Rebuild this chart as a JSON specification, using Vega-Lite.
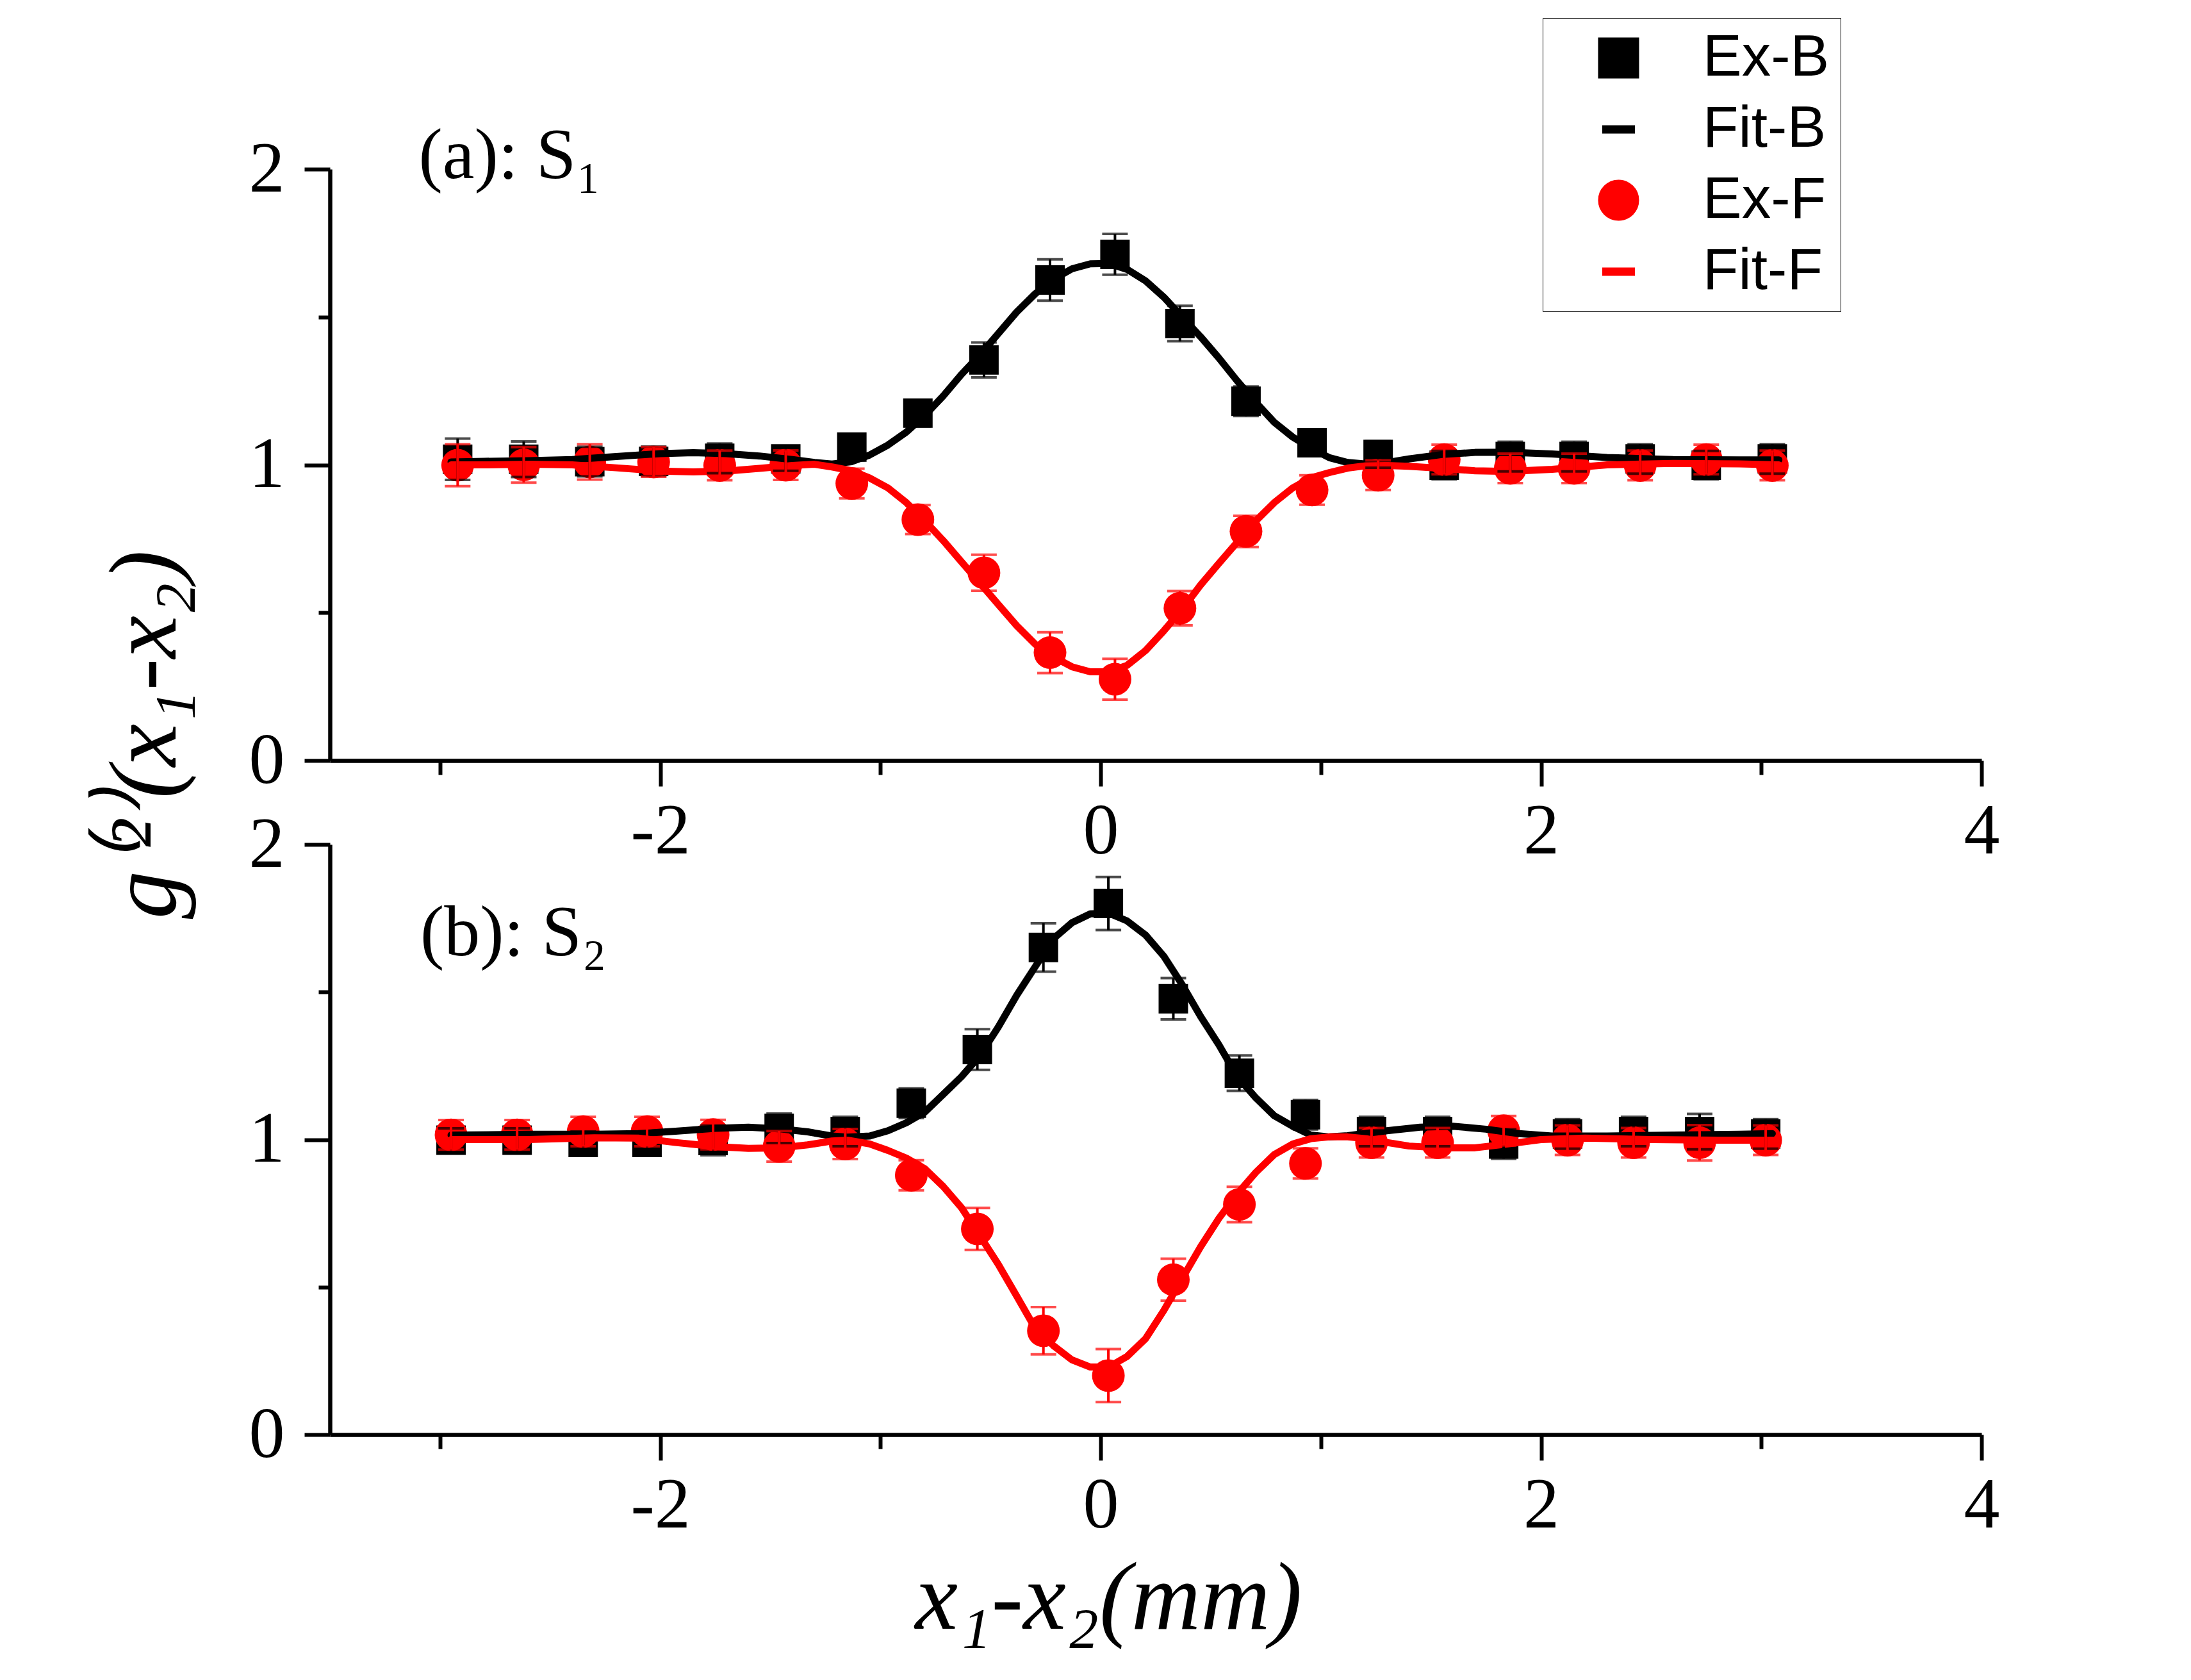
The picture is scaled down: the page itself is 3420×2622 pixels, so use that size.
{
  "$schema": "https://vega.github.io/schema/vega-lite/v6.json",
  "description": "g2 correlation, bunching (B) and antibunching (F), panels S1 and S2",
  "padding": {"left": 153, "top": 27, "right": 20, "bottom": 20},
  "background": "white",
  "datasets": {
    "ex": [
      {"p": "a", "s": "Ex-B", "x": -2.92, "g": 1.019, "e": 0.07},
      {"p": "a", "s": "Ex-B", "x": -2.62, "g": 1.019, "e": 0.06},
      {"p": "a", "s": "Ex-B", "x": -2.32, "g": 1.011, "e": 0.05},
      {"p": "a", "s": "Ex-B", "x": -2.03, "g": 1.012, "e": 0.05},
      {"p": "a", "s": "Ex-B", "x": -1.73, "g": 1.022, "e": 0.05},
      {"p": "a", "s": "Ex-B", "x": -1.43, "g": 1.02, "e": 0.04},
      {"p": "a", "s": "Ex-B", "x": -1.13, "g": 1.06, "e": 0.045},
      {"p": "a", "s": "Ex-B", "x": -0.83, "g": 1.175, "e": 0.045},
      {"p": "a", "s": "Ex-B", "x": -0.53, "g": 1.355, "e": 0.059},
      {"p": "a", "s": "Ex-B", "x": -0.23, "g": 1.625, "e": 0.07},
      {"p": "a", "s": "Ex-B", "x": 0.065, "g": 1.712, "e": 0.069},
      {"p": "a", "s": "Ex-B", "x": 0.36, "g": 1.478, "e": 0.06},
      {"p": "a", "s": "Ex-B", "x": 0.66, "g": 1.215, "e": 0.05},
      {"p": "a", "s": "Ex-B", "x": 0.96, "g": 1.075, "e": 0.045},
      {"p": "a", "s": "Ex-B", "x": 1.26, "g": 1.035, "e": 0.045},
      {"p": "a", "s": "Ex-B", "x": 1.56, "g": 0.999, "e": 0.048},
      {"p": "a", "s": "Ex-B", "x": 1.86, "g": 1.028, "e": 0.05},
      {"p": "a", "s": "Ex-B", "x": 2.15, "g": 1.028, "e": 0.05},
      {"p": "a", "s": "Ex-B", "x": 2.45, "g": 1.02, "e": 0.05},
      {"p": "a", "s": "Ex-B", "x": 2.75, "g": 0.999, "e": 0.048},
      {"p": "a", "s": "Ex-B", "x": 3.05, "g": 1.02, "e": 0.05},
      {"p": "a", "s": "Ex-F", "x": -2.92, "g": 0.999, "e": 0.071},
      {"p": "a", "s": "Ex-F", "x": -2.62, "g": 1.0, "e": 0.06},
      {"p": "a", "s": "Ex-F", "x": -2.32, "g": 1.01, "e": 0.06},
      {"p": "a", "s": "Ex-F", "x": -2.03, "g": 1.01, "e": 0.05},
      {"p": "a", "s": "Ex-F", "x": -1.73, "g": 0.998, "e": 0.05},
      {"p": "a", "s": "Ex-F", "x": -1.43, "g": 0.999, "e": 0.05},
      {"p": "a", "s": "Ex-F", "x": -1.13, "g": 0.937, "e": 0.05},
      {"p": "a", "s": "Ex-F", "x": -0.83, "g": 0.815, "e": 0.049},
      {"p": "a", "s": "Ex-F", "x": -0.53, "g": 0.635, "e": 0.061},
      {"p": "a", "s": "Ex-F", "x": -0.23, "g": 0.365, "e": 0.069},
      {"p": "a", "s": "Ex-F", "x": 0.065, "g": 0.275, "e": 0.069},
      {"p": "a", "s": "Ex-F", "x": 0.36, "g": 0.515, "e": 0.058},
      {"p": "a", "s": "Ex-F", "x": 0.66, "g": 0.775, "e": 0.053},
      {"p": "a", "s": "Ex-F", "x": 0.96, "g": 0.915, "e": 0.05},
      {"p": "a", "s": "Ex-F", "x": 1.26, "g": 0.965, "e": 0.05},
      {"p": "a", "s": "Ex-F", "x": 1.56, "g": 1.018, "e": 0.05},
      {"p": "a", "s": "Ex-F", "x": 1.86, "g": 0.988, "e": 0.05},
      {"p": "a", "s": "Ex-F", "x": 2.15, "g": 0.988, "e": 0.05},
      {"p": "a", "s": "Ex-F", "x": 2.45, "g": 0.998, "e": 0.05},
      {"p": "a", "s": "Ex-F", "x": 2.75, "g": 1.018, "e": 0.05},
      {"p": "a", "s": "Ex-F", "x": 3.05, "g": 0.998, "e": 0.05},
      {"p": "b", "s": "Ex-B", "x": -2.95, "g": 0.998, "e": 0.04},
      {"p": "b", "s": "Ex-B", "x": -2.65, "g": 0.998, "e": 0.04},
      {"p": "b", "s": "Ex-B", "x": -2.35, "g": 0.99, "e": 0.037},
      {"p": "b", "s": "Ex-B", "x": -2.06, "g": 0.99, "e": 0.037},
      {"p": "b", "s": "Ex-B", "x": -1.76, "g": 0.997, "e": 0.05},
      {"p": "b", "s": "Ex-B", "x": -1.46, "g": 1.038, "e": 0.05},
      {"p": "b", "s": "Ex-B", "x": -1.16, "g": 1.027, "e": 0.05},
      {"p": "b", "s": "Ex-B", "x": -0.86, "g": 1.123, "e": 0.05},
      {"p": "b", "s": "Ex-B", "x": -0.56, "g": 1.305, "e": 0.069},
      {"p": "b", "s": "Ex-B", "x": -0.26, "g": 1.651, "e": 0.082},
      {"p": "b", "s": "Ex-B", "x": 0.035, "g": 1.8, "e": 0.09},
      {"p": "b", "s": "Ex-B", "x": 0.33, "g": 1.477, "e": 0.07},
      {"p": "b", "s": "Ex-B", "x": 0.63, "g": 1.225, "e": 0.06},
      {"p": "b", "s": "Ex-B", "x": 0.93, "g": 1.084, "e": 0.05},
      {"p": "b", "s": "Ex-B", "x": 1.23, "g": 1.027, "e": 0.05},
      {"p": "b", "s": "Ex-B", "x": 1.53, "g": 1.027, "e": 0.05},
      {"p": "b", "s": "Ex-B", "x": 1.83, "g": 0.985, "e": 0.05},
      {"p": "b", "s": "Ex-B", "x": 2.12, "g": 1.019, "e": 0.05},
      {"p": "b", "s": "Ex-B", "x": 2.42, "g": 1.027, "e": 0.05},
      {"p": "b", "s": "Ex-B", "x": 2.72, "g": 1.027, "e": 0.06},
      {"p": "b", "s": "Ex-B", "x": 3.02, "g": 1.019, "e": 0.05},
      {"p": "b", "s": "Ex-F", "x": -2.95, "g": 1.016, "e": 0.05},
      {"p": "b", "s": "Ex-F", "x": -2.65, "g": 1.016, "e": 0.05},
      {"p": "b", "s": "Ex-F", "x": -2.35, "g": 1.027, "e": 0.05},
      {"p": "b", "s": "Ex-F", "x": -2.06, "g": 1.027, "e": 0.05},
      {"p": "b", "s": "Ex-F", "x": -1.76, "g": 1.017, "e": 0.05},
      {"p": "b", "s": "Ex-F", "x": -1.46, "g": 0.977, "e": 0.052},
      {"p": "b", "s": "Ex-F", "x": -1.16, "g": 0.985, "e": 0.051},
      {"p": "b", "s": "Ex-F", "x": -0.86, "g": 0.879, "e": 0.051},
      {"p": "b", "s": "Ex-F", "x": -0.56, "g": 0.697, "e": 0.071},
      {"p": "b", "s": "Ex-F", "x": -0.26, "g": 0.352, "e": 0.08},
      {"p": "b", "s": "Ex-F", "x": 0.035, "g": 0.2, "e": 0.09},
      {"p": "b", "s": "Ex-F", "x": 0.33, "g": 0.525, "e": 0.071},
      {"p": "b", "s": "Ex-F", "x": 0.63, "g": 0.78, "e": 0.06},
      {"p": "b", "s": "Ex-F", "x": 0.93, "g": 0.919, "e": 0.051},
      {"p": "b", "s": "Ex-F", "x": 1.23, "g": 0.989, "e": 0.05},
      {"p": "b", "s": "Ex-F", "x": 1.53, "g": 0.989, "e": 0.05},
      {"p": "b", "s": "Ex-F", "x": 1.83, "g": 1.03, "e": 0.05},
      {"p": "b", "s": "Ex-F", "x": 2.12, "g": 0.998, "e": 0.05},
      {"p": "b", "s": "Ex-F", "x": 2.42, "g": 0.989, "e": 0.05},
      {"p": "b", "s": "Ex-F", "x": 2.72, "g": 0.989, "e": 0.06},
      {"p": "b", "s": "Ex-F", "x": 3.02, "g": 0.998, "e": 0.05}
    ],
    "fit": [
      {"p": "a", "s": "Fit-B", "x": -2.95, "g": 1.01},
      {"p": "a", "s": "Fit-B", "x": -2.8, "g": 1.012},
      {"p": "a", "s": "Fit-B", "x": -2.6, "g": 1.014},
      {"p": "a", "s": "Fit-B", "x": -2.4, "g": 1.018},
      {"p": "a", "s": "Fit-B", "x": -2.2, "g": 1.028},
      {"p": "a", "s": "Fit-B", "x": -2.0, "g": 1.038},
      {"p": "a", "s": "Fit-B", "x": -1.85, "g": 1.041},
      {"p": "a", "s": "Fit-B", "x": -1.7, "g": 1.038},
      {"p": "a", "s": "Fit-B", "x": -1.55, "g": 1.03},
      {"p": "a", "s": "Fit-B", "x": -1.4, "g": 1.018},
      {"p": "a", "s": "Fit-B", "x": -1.3, "g": 1.008},
      {"p": "a", "s": "Fit-B", "x": -1.22, "g": 1.003},
      {"p": "a", "s": "Fit-B", "x": -1.13, "g": 1.011},
      {"p": "a", "s": "Fit-B", "x": -1.05, "g": 1.033},
      {"p": "a", "s": "Fit-B", "x": -0.966, "g": 1.067},
      {"p": "a", "s": "Fit-B", "x": -0.882, "g": 1.111},
      {"p": "a", "s": "Fit-B", "x": -0.799, "g": 1.167},
      {"p": "a", "s": "Fit-B", "x": -0.715, "g": 1.233},
      {"p": "a", "s": "Fit-B", "x": -0.632, "g": 1.306},
      {"p": "a", "s": "Fit-B", "x": -0.548, "g": 1.372},
      {"p": "a", "s": "Fit-B", "x": -0.465, "g": 1.444},
      {"p": "a", "s": "Fit-B", "x": -0.381, "g": 1.517},
      {"p": "a", "s": "Fit-B", "x": -0.298, "g": 1.578},
      {"p": "a", "s": "Fit-B", "x": -0.214, "g": 1.628},
      {"p": "a", "s": "Fit-B", "x": -0.13, "g": 1.663},
      {"p": "a", "s": "Fit-B", "x": -0.047, "g": 1.68},
      {"p": "a", "s": "Fit-B", "x": 0.037, "g": 1.681},
      {"p": "a", "s": "Fit-B", "x": 0.12, "g": 1.661},
      {"p": "a", "s": "Fit-B", "x": 0.204, "g": 1.622},
      {"p": "a", "s": "Fit-B", "x": 0.287, "g": 1.567},
      {"p": "a", "s": "Fit-B", "x": 0.37, "g": 1.5},
      {"p": "a", "s": "Fit-B", "x": 0.454, "g": 1.433},
      {"p": "a", "s": "Fit-B", "x": 0.537, "g": 1.361},
      {"p": "a", "s": "Fit-B", "x": 0.621, "g": 1.283},
      {"p": "a", "s": "Fit-B", "x": 0.705, "g": 1.211},
      {"p": "a", "s": "Fit-B", "x": 0.788, "g": 1.144},
      {"p": "a", "s": "Fit-B", "x": 0.872, "g": 1.094},
      {"p": "a", "s": "Fit-B", "x": 0.955, "g": 1.056},
      {"p": "a", "s": "Fit-B", "x": 1.039, "g": 1.024},
      {"p": "a", "s": "Fit-B", "x": 1.122, "g": 1.008},
      {"p": "a", "s": "Fit-B", "x": 1.206, "g": 1.003},
      {"p": "a", "s": "Fit-B", "x": 1.3, "g": 1.008},
      {"p": "a", "s": "Fit-B", "x": 1.4, "g": 1.02},
      {"p": "a", "s": "Fit-B", "x": 1.55, "g": 1.035},
      {"p": "a", "s": "Fit-B", "x": 1.7, "g": 1.042},
      {"p": "a", "s": "Fit-B", "x": 1.85, "g": 1.043},
      {"p": "a", "s": "Fit-B", "x": 2.05, "g": 1.037},
      {"p": "a", "s": "Fit-B", "x": 2.3, "g": 1.025},
      {"p": "a", "s": "Fit-B", "x": 2.6, "g": 1.018},
      {"p": "a", "s": "Fit-B", "x": 2.9, "g": 1.017},
      {"p": "a", "s": "Fit-B", "x": 3.08, "g": 1.017},
      {"p": "a", "s": "Fit-F", "x": -2.95, "g": 1.0},
      {"p": "a", "s": "Fit-F", "x": -2.8, "g": 1.0},
      {"p": "a", "s": "Fit-F", "x": -2.6, "g": 1.002},
      {"p": "a", "s": "Fit-F", "x": -2.4, "g": 1.0},
      {"p": "a", "s": "Fit-F", "x": -2.2, "g": 0.99},
      {"p": "a", "s": "Fit-F", "x": -2.0, "g": 0.979},
      {"p": "a", "s": "Fit-F", "x": -1.85, "g": 0.976},
      {"p": "a", "s": "Fit-F", "x": -1.7, "g": 0.979},
      {"p": "a", "s": "Fit-F", "x": -1.55, "g": 0.988},
      {"p": "a", "s": "Fit-F", "x": -1.4, "g": 0.998},
      {"p": "a", "s": "Fit-F", "x": -1.3, "g": 1.002},
      {"p": "a", "s": "Fit-F", "x": -1.22, "g": 0.993},
      {"p": "a", "s": "Fit-F", "x": -1.13, "g": 0.98},
      {"p": "a", "s": "Fit-F", "x": -1.05, "g": 0.956},
      {"p": "a", "s": "Fit-F", "x": -0.966, "g": 0.922},
      {"p": "a", "s": "Fit-F", "x": -0.882, "g": 0.872},
      {"p": "a", "s": "Fit-F", "x": -0.799, "g": 0.811},
      {"p": "a", "s": "Fit-F", "x": -0.715, "g": 0.744},
      {"p": "a", "s": "Fit-F", "x": -0.632, "g": 0.672},
      {"p": "a", "s": "Fit-F", "x": -0.548, "g": 0.6},
      {"p": "a", "s": "Fit-F", "x": -0.465, "g": 0.528},
      {"p": "a", "s": "Fit-F", "x": -0.381, "g": 0.456},
      {"p": "a", "s": "Fit-F", "x": -0.298, "g": 0.394},
      {"p": "a", "s": "Fit-F", "x": -0.214, "g": 0.35},
      {"p": "a", "s": "Fit-F", "x": -0.13, "g": 0.317},
      {"p": "a", "s": "Fit-F", "x": -0.047, "g": 0.3},
      {"p": "a", "s": "Fit-F", "x": 0.037, "g": 0.3},
      {"p": "a", "s": "Fit-F", "x": 0.12, "g": 0.322},
      {"p": "a", "s": "Fit-F", "x": 0.204, "g": 0.372},
      {"p": "a", "s": "Fit-F", "x": 0.287, "g": 0.439},
      {"p": "a", "s": "Fit-F", "x": 0.37, "g": 0.511},
      {"p": "a", "s": "Fit-F", "x": 0.454, "g": 0.594},
      {"p": "a", "s": "Fit-F", "x": 0.537, "g": 0.667},
      {"p": "a", "s": "Fit-F", "x": 0.621, "g": 0.739},
      {"p": "a", "s": "Fit-F", "x": 0.705, "g": 0.811},
      {"p": "a", "s": "Fit-F", "x": 0.788, "g": 0.872},
      {"p": "a", "s": "Fit-F", "x": 0.872, "g": 0.922},
      {"p": "a", "s": "Fit-F", "x": 0.955, "g": 0.956},
      {"p": "a", "s": "Fit-F", "x": 1.039, "g": 0.974},
      {"p": "a", "s": "Fit-F", "x": 1.122, "g": 0.989},
      {"p": "a", "s": "Fit-F", "x": 1.206, "g": 0.997},
      {"p": "a", "s": "Fit-F", "x": 1.3, "g": 0.998},
      {"p": "a", "s": "Fit-F", "x": 1.4, "g": 0.995},
      {"p": "a", "s": "Fit-F", "x": 1.55, "g": 0.988},
      {"p": "a", "s": "Fit-F", "x": 1.7, "g": 0.98},
      {"p": "a", "s": "Fit-F", "x": 1.85, "g": 0.978},
      {"p": "a", "s": "Fit-F", "x": 2.05, "g": 0.985},
      {"p": "a", "s": "Fit-F", "x": 2.3, "g": 1.0},
      {"p": "a", "s": "Fit-F", "x": 2.6, "g": 1.005},
      {"p": "a", "s": "Fit-F", "x": 2.9, "g": 1.003},
      {"p": "a", "s": "Fit-F", "x": 3.08, "g": 1.0},
      {"p": "b", "s": "Fit-B", "x": -2.95, "g": 1.015},
      {"p": "b", "s": "Fit-B", "x": -2.6, "g": 1.018},
      {"p": "b", "s": "Fit-B", "x": -2.3, "g": 1.018},
      {"p": "b", "s": "Fit-B", "x": -2.1, "g": 1.02},
      {"p": "b", "s": "Fit-B", "x": -1.93, "g": 1.028},
      {"p": "b", "s": "Fit-B", "x": -1.75, "g": 1.038},
      {"p": "b", "s": "Fit-B", "x": -1.6, "g": 1.042},
      {"p": "b", "s": "Fit-B", "x": -1.45, "g": 1.036},
      {"p": "b", "s": "Fit-B", "x": -1.33, "g": 1.026},
      {"p": "b", "s": "Fit-B", "x": -1.22, "g": 1.012},
      {"p": "b", "s": "Fit-B", "x": -1.15, "g": 1.008},
      {"p": "b", "s": "Fit-B", "x": -1.049, "g": 1.012},
      {"p": "b", "s": "Fit-B", "x": -0.966, "g": 1.03},
      {"p": "b", "s": "Fit-B", "x": -0.882, "g": 1.057},
      {"p": "b", "s": "Fit-B", "x": -0.799, "g": 1.093},
      {"p": "b", "s": "Fit-B", "x": -0.715, "g": 1.153},
      {"p": "b", "s": "Fit-B", "x": -0.632, "g": 1.213},
      {"p": "b", "s": "Fit-B", "x": -0.548, "g": 1.285},
      {"p": "b", "s": "Fit-B", "x": -0.465, "g": 1.381},
      {"p": "b", "s": "Fit-B", "x": -0.381, "g": 1.489},
      {"p": "b", "s": "Fit-B", "x": -0.298, "g": 1.585},
      {"p": "b", "s": "Fit-B", "x": -0.214, "g": 1.681},
      {"p": "b", "s": "Fit-B", "x": -0.13, "g": 1.735},
      {"p": "b", "s": "Fit-B", "x": -0.047, "g": 1.765},
      {"p": "b", "s": "Fit-B", "x": 0.037, "g": 1.767},
      {"p": "b", "s": "Fit-B", "x": 0.12, "g": 1.741},
      {"p": "b", "s": "Fit-B", "x": 0.204, "g": 1.693},
      {"p": "b", "s": "Fit-B", "x": 0.287, "g": 1.621},
      {"p": "b", "s": "Fit-B", "x": 0.37, "g": 1.525},
      {"p": "b", "s": "Fit-B", "x": 0.454, "g": 1.417},
      {"p": "b", "s": "Fit-B", "x": 0.537, "g": 1.321},
      {"p": "b", "s": "Fit-B", "x": 0.621, "g": 1.213},
      {"p": "b", "s": "Fit-B", "x": 0.705, "g": 1.141},
      {"p": "b", "s": "Fit-B", "x": 0.788, "g": 1.081},
      {"p": "b", "s": "Fit-B", "x": 0.872, "g": 1.045},
      {"p": "b", "s": "Fit-B", "x": 0.955, "g": 1.015},
      {"p": "b", "s": "Fit-B", "x": 1.039, "g": 1.009},
      {"p": "b", "s": "Fit-B", "x": 1.122, "g": 1.013},
      {"p": "b", "s": "Fit-B", "x": 1.206, "g": 1.021},
      {"p": "b", "s": "Fit-B", "x": 1.3, "g": 1.03},
      {"p": "b", "s": "Fit-B", "x": 1.45, "g": 1.042},
      {"p": "b", "s": "Fit-B", "x": 1.6, "g": 1.045},
      {"p": "b", "s": "Fit-B", "x": 1.75, "g": 1.035},
      {"p": "b", "s": "Fit-B", "x": 1.9, "g": 1.02},
      {"p": "b", "s": "Fit-B", "x": 2.05, "g": 1.012},
      {"p": "b", "s": "Fit-B", "x": 2.3, "g": 1.012},
      {"p": "b", "s": "Fit-B", "x": 2.6, "g": 1.015},
      {"p": "b", "s": "Fit-B", "x": 2.9, "g": 1.018},
      {"p": "b", "s": "Fit-B", "x": 3.05, "g": 1.02},
      {"p": "b", "s": "Fit-F", "x": -2.95, "g": 1.0},
      {"p": "b", "s": "Fit-F", "x": -2.6, "g": 1.0},
      {"p": "b", "s": "Fit-F", "x": -2.3, "g": 1.006},
      {"p": "b", "s": "Fit-F", "x": -2.1, "g": 1.005},
      {"p": "b", "s": "Fit-F", "x": -1.93, "g": 0.99},
      {"p": "b", "s": "Fit-F", "x": -1.75, "g": 0.976},
      {"p": "b", "s": "Fit-F", "x": -1.6, "g": 0.97},
      {"p": "b", "s": "Fit-F", "x": -1.45, "g": 0.972},
      {"p": "b", "s": "Fit-F", "x": -1.33, "g": 0.982},
      {"p": "b", "s": "Fit-F", "x": -1.22, "g": 0.995},
      {"p": "b", "s": "Fit-F", "x": -1.15, "g": 0.998},
      {"p": "b", "s": "Fit-F", "x": -1.049, "g": 0.985},
      {"p": "b", "s": "Fit-F", "x": -0.966, "g": 0.963},
      {"p": "b", "s": "Fit-F", "x": -0.882, "g": 0.937},
      {"p": "b", "s": "Fit-F", "x": -0.799, "g": 0.901},
      {"p": "b", "s": "Fit-F", "x": -0.715, "g": 0.841},
      {"p": "b", "s": "Fit-F", "x": -0.632, "g": 0.769},
      {"p": "b", "s": "Fit-F", "x": -0.548, "g": 0.673},
      {"p": "b", "s": "Fit-F", "x": -0.465, "g": 0.577},
      {"p": "b", "s": "Fit-F", "x": -0.381, "g": 0.469},
      {"p": "b", "s": "Fit-F", "x": -0.298, "g": 0.361},
      {"p": "b", "s": "Fit-F", "x": -0.214, "g": 0.301},
      {"p": "b", "s": "Fit-F", "x": -0.13, "g": 0.253},
      {"p": "b", "s": "Fit-F", "x": -0.047, "g": 0.229},
      {"p": "b", "s": "Fit-F", "x": 0.037, "g": 0.229},
      {"p": "b", "s": "Fit-F", "x": 0.12, "g": 0.265},
      {"p": "b", "s": "Fit-F", "x": 0.204, "g": 0.325},
      {"p": "b", "s": "Fit-F", "x": 0.287, "g": 0.421},
      {"p": "b", "s": "Fit-F", "x": 0.37, "g": 0.529},
      {"p": "b", "s": "Fit-F", "x": 0.454, "g": 0.637},
      {"p": "b", "s": "Fit-F", "x": 0.537, "g": 0.733},
      {"p": "b", "s": "Fit-F", "x": 0.621, "g": 0.817},
      {"p": "b", "s": "Fit-F", "x": 0.705, "g": 0.889},
      {"p": "b", "s": "Fit-F", "x": 0.788, "g": 0.949},
      {"p": "b", "s": "Fit-F", "x": 0.872, "g": 0.985},
      {"p": "b", "s": "Fit-F", "x": 0.955, "g": 1.003},
      {"p": "b", "s": "Fit-F", "x": 1.039, "g": 1.009},
      {"p": "b", "s": "Fit-F", "x": 1.122, "g": 1.009},
      {"p": "b", "s": "Fit-F", "x": 1.206, "g": 1.003},
      {"p": "b", "s": "Fit-F", "x": 1.3, "g": 0.99},
      {"p": "b", "s": "Fit-F", "x": 1.4, "g": 0.978},
      {"p": "b", "s": "Fit-F", "x": 1.55, "g": 0.972},
      {"p": "b", "s": "Fit-F", "x": 1.7, "g": 0.972},
      {"p": "b", "s": "Fit-F", "x": 1.85, "g": 0.985},
      {"p": "b", "s": "Fit-F", "x": 2.0, "g": 1.0},
      {"p": "b", "s": "Fit-F", "x": 2.2, "g": 1.005},
      {"p": "b", "s": "Fit-F", "x": 2.5, "g": 1.0},
      {"p": "b", "s": "Fit-F", "x": 2.8, "g": 0.998},
      {"p": "b", "s": "Fit-F", "x": 3.05, "g": 0.998}
    ],
    "labels": [
      {"p": "a", "label": "(a): S₁", "x": -3.097, "g": 1.97},
      {"p": "b", "label": "(b): S₂", "x": -3.09, "g": 1.625}
    ]
  },
  "vconcat": [
    {
      "width": 2578,
      "height": 923,
      "encoding": {
        "x": {
          "field": "x", "type": "quantitative",
          "scale": {"domain": [-3.5, 4], "nice": false, "zero": false},
          "axis": {
            "title": null,
            "values": [-3, -2, -1, 0, 1, 2, 3, 4],
            "labelExpr": "datum.value % 2 === 0 ? (datum.value < 0 ? '-' + abs(datum.value) : '' + datum.value) : ''",
            "tickSize": {"condition": {"test": "datum.value % 2 === 0", "value": 40}, "value": 22},
            "labelBaseline": "alphabetic",
            "labelPadding": 104
          }
        },
        "y": {
          "field": "g", "type": "quantitative",
          "scale": {"domain": [0, 2], "nice": false},
          "axis": {
            "title": "g⁽²⁾(x₁-x₂)",
            "titleAngle": 270,
            "titleX": -242,
            "titleY": 882,
            "titleAlign": "center",
            "titleBaseline": "alphabetic",
            "values": [0, 0.5, 1, 1.5, 2],
            "labelExpr": "datum.value % 1 === 0 ? '' + datum.value : ''",
            "tickSize": {"condition": {"test": "datum.value % 1 === 0", "value": 40}, "value": 18},
            "labelPadding": 31
          }
        }
      },
      "layer": [
        {
          "data": {"name": "ex"},
          "transform": [{"filter": "datum.p === 'a' && datum.s === 'Ex-B'"}],
          "mark": {"type": "point", "filled": true, "size": 2116, "opacity": 1, "strokeWidth": 0},
          "encoding": {
            "color": {
              "field": "s", "type": "nominal",
              "scale": {"domain": ["Ex-B", "Fit-B", "Ex-F", "Fit-F"], "range": ["black", "black", "red", "red"]},
              "legend": {"orient": "none", "legendX": 1893, "legendY": -236, "title": null}
            },
            "shape": {
              "field": "s", "type": "nominal",
              "scale": {"domain": ["Ex-B", "Fit-B", "Ex-F", "Fit-F"], "range": ["square", "stroke", "circle", "stroke"]},
              "legend": {"orient": "none", "legendX": 1893, "legendY": -236, "title": null}
            }
          }
        },
        {
          "data": {"name": "ex"},
          "transform": [{"filter": "datum.p === 'a' && datum.s === 'Ex-F'"}],
          "mark": {"type": "point", "filled": true, "size": 2601, "opacity": 1, "strokeWidth": 0},
          "encoding": {
            "color": {"field": "s", "type": "nominal"},
            "shape": {"field": "s", "type": "nominal"}
          }
        },
        {
          "data": {"name": "fit"},
          "transform": [{"filter": "datum.p === 'a'"}],
          "mark": {"type": "line", "strokeWidth": 11, "strokeJoin": "round", "strokeCap": "round"},
          "encoding": {
            "color": {"field": "s", "type": "nominal"}
          }
        },
        {
          "data": {"name": "ex"},
          "transform": [{"filter": "datum.p === 'a' && datum.s === 'Ex-B'"}],
          "mark": {"type": "errorbar", "color": "black", "thickness": 4, "ticks": {"size": 40, "thickness": 4}},
          "encoding": {"yError": {"field": "e"}}
        },
        {
          "data": {"name": "ex"},
          "transform": [{"filter": "datum.p === 'a' && datum.s === 'Ex-F'"}],
          "mark": {"type": "errorbar", "color": "red", "thickness": 4, "ticks": {"size": 40, "thickness": 4}},
          "encoding": {"yError": {"field": "e"}}
        },
        {
          "data": {"name": "labels"},
          "transform": [{"filter": "datum.p === 'a'"}],
          "mark": {"type": "text", "align": "left", "baseline": "alphabetic", "font": "Liberation Serif", "fontSize": 112, "color": "black"},
          "encoding": {
            "text": {"field": "label", "type": "nominal"}
          }
        }
      ]
    },
    {
      "width": 2578,
      "height": 921,
      "encoding": {
        "x": {
          "field": "x", "type": "quantitative",
          "scale": {"domain": [-3.5, 4], "nice": false, "zero": false},
          "axis": {
            "title": "x₁-x₂(mm)",
            "titleX": 1215,
            "titleY": 302,
            "titleAlign": "center",
            "titleBaseline": "alphabetic",
            "values": [-3, -2, -1, 0, 1, 2, 3, 4],
            "labelExpr": "datum.value % 2 === 0 ? (datum.value < 0 ? '-' + abs(datum.value) : '' + datum.value) : ''",
            "tickSize": {"condition": {"test": "datum.value % 2 === 0", "value": 40}, "value": 22},
            "labelBaseline": "alphabetic",
            "labelPadding": 104
          }
        },
        "y": {
          "field": "g", "type": "quantitative",
          "scale": {"domain": [0, 2], "nice": false},
          "axis": {
            "title": null,
            "values": [0, 0.5, 1, 1.5, 2],
            "labelExpr": "datum.value % 1 === 0 ? '' + datum.value : ''",
            "tickSize": {"condition": {"test": "datum.value % 1 === 0", "value": 40}, "value": 18},
            "labelPadding": 31
          }
        }
      },
      "layer": [
        {
          "data": {"name": "ex"},
          "transform": [{"filter": "datum.p === 'b' && datum.s === 'Ex-B'"}],
          "mark": {"type": "point", "filled": true, "size": 2116, "opacity": 1, "strokeWidth": 0},
          "encoding": {
            "color": {"field": "s", "type": "nominal", "legend": null},
            "shape": {"field": "s", "type": "nominal", "legend": null}
          }
        },
        {
          "data": {"name": "ex"},
          "transform": [{"filter": "datum.p === 'b' && datum.s === 'Ex-F'"}],
          "mark": {"type": "point", "filled": true, "size": 2601, "opacity": 1, "strokeWidth": 0},
          "encoding": {
            "color": {"field": "s", "type": "nominal", "legend": null},
            "shape": {"field": "s", "type": "nominal", "legend": null}
          }
        },
        {
          "data": {"name": "fit"},
          "transform": [{"filter": "datum.p === 'b'"}],
          "mark": {"type": "line", "strokeWidth": 11, "strokeJoin": "round", "strokeCap": "round"},
          "encoding": {
            "color": {"field": "s", "type": "nominal", "legend": null}
          }
        },
        {
          "data": {"name": "ex"},
          "transform": [{"filter": "datum.p === 'b' && datum.s === 'Ex-B'"}],
          "mark": {"type": "errorbar", "color": "black", "thickness": 4, "ticks": {"size": 40, "thickness": 4}},
          "encoding": {"yError": {"field": "e"}}
        },
        {
          "data": {"name": "ex"},
          "transform": [{"filter": "datum.p === 'b' && datum.s === 'Ex-F'"}],
          "mark": {"type": "errorbar", "color": "red", "thickness": 4, "ticks": {"size": 40, "thickness": 4}},
          "encoding": {"yError": {"field": "e"}}
        },
        {
          "data": {"name": "labels"},
          "transform": [{"filter": "datum.p === 'b'"}],
          "mark": {"type": "text", "align": "left", "baseline": "alphabetic", "font": "Liberation Serif", "fontSize": 112, "color": "black"},
          "encoding": {
            "text": {"field": "label", "type": "nominal"}
          }
        }
      ]
    }
  ],
  "spacing": 131,
  "bounds": "flush",
  "resolve": {"legend": {"color": "independent", "shape": "independent"}},
  "config": {
    "view": {"stroke": null},
    "font": "Liberation Serif",
    "axis": {
      "grid": false,
      "domainColor": "black",
      "domainWidth": 6.5,
      "tickColor": "black",
      "tickWidth": 6,
      "labelFont": "Liberation Serif",
      "labelFontSize": 112,
      "labelColor": "black",
      "labelFlush": false,
      "labelOverlap": false,
      "titleFont": "Liberation Serif",
      "titleFontStyle": "italic",
      "titleFontWeight": "normal",
      "titleFontSize": 150,
      "titleColor": "black"
    },
    "legend": {
      "labelFont": "Liberation Sans",
      "labelFontSize": 91,
      "labelColor": "black",
      "labelLimit": 0,
      "labelOffset": 86,
      "symbolOffset": 56,
      "padding": 17,
      "rowPadding": 13.5,
      "symbolSize": 2601,
      "symbolStrokeWidth": 13,
      "strokeColor": "black",
      "fillColor": "white"
    }
  }
}
